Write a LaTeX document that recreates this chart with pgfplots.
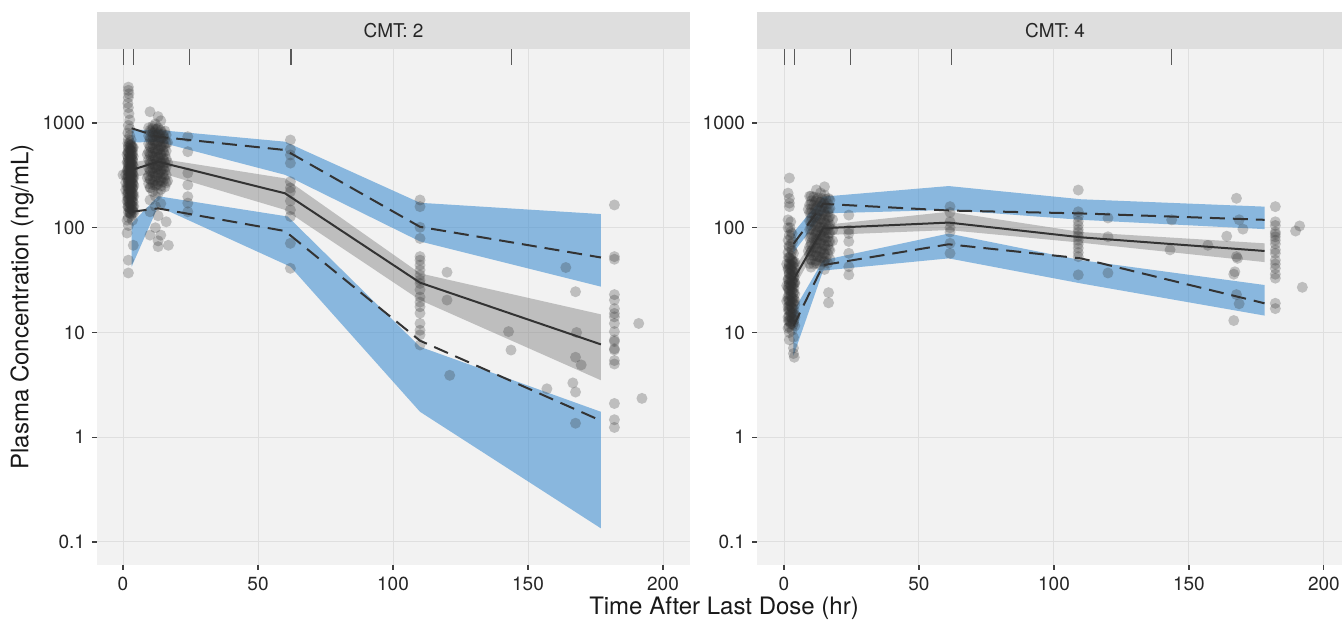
\documentclass[border=0pt]{standalone}
\usepackage{fontspec}
\setmainfont{TeX Gyre Heros}
\usepackage{pgfplots}
\pgfplotsset{compat=1.18}
\definecolor{panelbg}{HTML}{F2F2F2}
\definecolor{gridc}{HTML}{DFDFDF}
\definecolor{stripc}{HTML}{DEDEDE}
\definecolor{bandblue}{HTML}{4390D1}
\definecolor{bandgray}{HTML}{808080}
\definecolor{linec}{HTML}{333333}
\definecolor{ptc}{HTML}{333333}
\pgfplotsset{
  upband/.style={draw=none, fill=bandblue, fill opacity=0.6},
  medband/.style={draw=none, fill=bandgray, fill opacity=0.45},
  dline/.style={linec, line width=1pt, dash pattern=on 7.5pt off 4pt},
  sline/.style={linec, line width=1pt},
  rug/.style={black!65, line width=0.6pt},
}
\begin{document}
\begin{tikzpicture}
\useasboundingbox (0,0) rectangle (671pt,311pt);
% strips
\fill[stripc] (48.5pt,286.5pt) rectangle (345pt,305pt);
\node[font=\fontsize{9.5}{11}\selectfont, text=black!85] at (196.75pt,295.75pt) {CMT: 2};
\fill[stripc] (378.5pt,286.5pt) rectangle (671pt,305pt);
\node[font=\fontsize{9.5}{11}\selectfont, text=black!85] at (527.5pt,295.75pt) {CMT: 4};
% axis titles
\node[rotate=90, font=\fontsize{12}{14}\selectfont, text=black!90] at (11pt,157.5pt) {Plasma Concentration (ng/mL)};
\node[font=\fontsize{12}{14}\selectfont, text=black!90] at (362pt,7pt) {Time After Last Dose (hr)};

% ---------------- CMT 2 ----------------
\begin{axis}[ymode=log, log basis y=10,
  scale only axis, anchor=south west,
  at={(48.5pt,28.5pt)}, width=296.5pt, height=258pt,
  xmin=-9.63, xmax=210, ymin=0.0603, ymax=5085,
  axis background/.style={fill=panelbg},
  axis line style={draw=none},
  grid=major, major grid style={gridc, line width=0.5pt},
  xtick={0,50,100,150,200}, xticklabels={0,50,100,150,200},
  ytick={0.1,1,10,100,1000}, yticklabels={0.1,1,10,100,1000},
  tick align=outside, major tick length=2.5pt,
  tick style={black!75, line width=0.55pt},
  xtick pos=bottom, ytick pos=left,
  ticklabel style={font=\fontsize{9.5}{11}\selectfont, text=black!85},
  minor tick num=0]
\addplot[upband] coordinates {(3.2,860) (13,858) (60,663) (110,173) (177,135) (177,27.4) (110,74) (60,320) (13,663) (3.2,650)};
\addplot[medband] coordinates {(3.2,420) (13,460) (60,296) (110,36.7) (177,14.9) (177,3.5) (110,20.4) (60,148) (13,340) (3.2,300)};
\addplot[upband] coordinates {(3.2,110) (13,200) (61,128) (110,7.3) (177,1.75) (177,0.135) (110,1.75) (62,42.5) (13,160) (3.2,42.5)};
\addplot[dline] coordinates {(3.2,890) (13,740) (60,552) (110,102) (177,52)};
\addplot[sline] coordinates {(3.2,356) (13,427) (60,213) (110,29.9) (177,7.7)};
\addplot[dline] coordinates {(3.2,142) (13,153) (60,93) (110,8.35) (177,1.44)};
\addplot[only marks, mark=*, mark size=2.75pt, color=ptc, mark options={solid, draw opacity=0, fill=ptc, fill opacity=0.27}] coordinates {
(2,2200)(2,2050)(2.2,1900)(2,1750)(1.8,1540)(2,1400)(2.2,1230)(2.5,1070)(2,950)(2.5,880)(1.8,800)(2.5,760)(2,700)(3,690)
(2.5,650)(3,620)(2,600)(3.5,580)(2.5,560)(3,540)(2,520)(3.5,500)(2.5,490)(3,470)(2,460)(3.5,450)(2.5,435)(3,420)(2,410)(3.5,400)(2.5,390)(3,380)(2,370)(3.5,365)(2.5,355)(3,345)(2,340)(3.5,330)(2.5,320)(3,312)(2,305)(3.5,298)(2.5,290)(3,282)(2,275)(3.5,268)(2.5,260)(3,252)(2,245)(3.5,238)(2.5,230)(3,222)(2,215)(3.5,208)(2.5,200)(3,193)(2,186)(3.5,180)(2.5,172)(3,165)(2,158)(3.5,150)(2.5,145)
(1.5,500)(1.5,420)(1.5,350)(1.5,300)(1.5,250)(1.5,210)(1.5,180)(1,320)(1,270)(1,230)(4,300)(4,250)(4,200)(0,320)
(2.5,138)(3,130)(2,125)(3.5,118)(1.5,118)(2,105)(1.5,89)(3.8,68)(2,49)(2,37)(4,160)(4,140)
(1.8,640)(2.3,625)(2.8,612)(3.3,598)(3.8,585)(2.0,572)(2.6,560)(3.1,548)(3.6,536)(1.8,524)(2.3,512)(2.8,500)(3.3,490)(3.8,479)(2.0,468)(2.6,458)(3.1,448)(3.6,438)(1.8,428)(2.3,419)(2.8,410)(3.3,401)(3.8,392)(2.0,383)(2.6,375)(3.1,367)(3.6,359)(1.8,351)(2.3,343)(2.8,336)(3.3,329)(3.8,321)(2.0,314)(2.6,307)(3.1,300)(3.6,294)(1.8,287)(2.3,281)(2.8,275)(3.3,269)(3.8,263)(2.0,257)(2.6,252)(3.1,246)(3.6,241)(1.8,235)(2.3,230)(2.8,225)(3.3,220)(3.8,215)(2.0,210)(2.6,206)(3.1,201)(3.6,197)(1.8,193)(2.3,188)(2.8,184)(3.3,180)(3.8,176)(2.0,172)(2.6,168)(3.1,165)(3.6,161)(1.8,158)(2.3,154)(2.8,151)(3.3,147)(3.8,144)(2.0,141)(2.6,138)(3.1,135)
(10,1280)(13,1150)(14,1050)(12,980)(11,930)(13,900)(12,870)(10,850)(14,830)(11,800)(13,780)(12,760)(15,740)(10,720)(14,700)(11,680)(13,660)(12,640)(15,620)(10,600)(14,585)(11,570)(13,555)(12,540)(15,525)(10,510)(14,495)(11,480)(13,468)(12,455)(15,440)(10,428)(14,415)(11,402)(13,390)(12,378)(15,366)(10,355)(14,344)(11,333)(13,322)(12,312)(15,302)(10,292)(14,282)(11,272)(13,262)(12,252)(10,242)(14,232)(11,222)(13,212)(12,200)
(9.5,900)(11,884)(12.5,869)(14,854)(15.5,839)(10.2,824)(11.7,810)(13.2,796)(14.7,782)(16,768)(9.5,755)(11,742)(12.5,729)(14,716)(15.5,704)(10.2,691)(11.7,679)(13.2,667)(14.7,656)(16,644)(9.5,633)(11,622)(12.5,611)(14,601)(15.5,590)(10.2,580)(11.7,570)(13.2,560)(14.7,550)(16,541)(9.5,531)(11,522)(12.5,513)(14,504)(15.5,495)(10.2,487)(11.7,478)(13.2,470)(14.7,462)(16,454)(9.5,446)(11,438)(12.5,431)(14,423)(15.5,416)(10.2,408)(11.7,401)(13.2,394)(14.7,387)(16,381)(9.5,374)(11,368)(12.5,361)(14,355)(15.5,349)(10.2,343)(11.7,337)(13.2,331)(14.7,325)(16,319)(9.5,314)(11,308)(12.5,303)(14,298)(15.5,292)(10.2,287)(11.7,282)(13.2,277)(14.7,273)(16,268)(9.5,263)(11,258)(12.5,254)(14,250)(15.5,245)(10.2,241)
(16.5,650)(16.5,420)(16.5,280)(9,500)(9,300)
(10,184)(14,170)(12,160)(10,142)(13,130)(16,114)(12,100)(10,85)(14,85)(13,75)(16.8,68)(13,66)
(24,740)(24,532)(24,333)(24,256)(24,198)(24,172)(24,142)
(62,688)(62,560)(62,495)(62,414)(62,275)(62,240)(62,221)(62,180)(62,148)(62,128)(62,71)(62,41)
(110,184)(110,159)(110,101)(110,79)(110,53)(110,49)(110,44)(110,39.5)(110,35.4)(110,31.6)(110,29.4)(110,25.6)(110,21.8)(110,19.5)(110,17.6)(110,15.3)(110,12.2)(110,10.5)(110,9.5)(110,7.6)
(120,37.6)(120,20.4)(121,3.9)(142.8,10.2)(143.7,6.8)(157,2.9)(164,41.7)(167.6,24.5)(168,10)(167.6,5.8)(169.7,4.9)(166.6,3.3)(167.6,2.7)(167.6,1.36)
(182,165)(182,53)(182,50)(182,23)(182,20.4)(182,16.9)(182,15.2)(182,14.1)(182,12.2)(182,10.2)(182,8.5)(182,8.2)(182,7)(182,6.8)(182,5.4)(182,5)(182,2.1)(182,1.47)(182,1.24)(191,12.2)(192.2,2.35)
};
\addplot[rug] coordinates {(0.25,3595) (0.25,5085)};
\addplot[rug] coordinates {(4,3595) (4,5085)};
\addplot[rug] coordinates {(24.5,3595) (24.5,5085)};
\addplot[rug] coordinates {(62.2,3595) (62.2,5085)};
\addplot[rug] coordinates {(143.8,3595) (143.8,5085)};
\end{axis}

% ---------------- CMT 4 ----------------
\begin{axis}[ymode=log, log basis y=10,
  scale only axis, anchor=south west,
  at={(378.5pt,28.5pt)}, width=292.5pt, height=258pt,
  xmin=-10, xmax=206.7, ymin=0.0603, ymax=5085,
  axis background/.style={fill=panelbg},
  axis line style={draw=none},
  grid=major, major grid style={gridc, line width=0.5pt},
  xtick={0,50,100,150,200}, xticklabels={0,50,100,150,200},
  ytick={0.1,1,10,100,1000}, yticklabels={0.1,1,10,100,1000},
  tick align=outside, major tick length=2.5pt,
  tick style={black!75, line width=0.55pt},
  xtick pos=bottom, ytick pos=left,
  ticklabel style={font=\fontsize{9.5}{11}\selectfont, text=black!85},
  minor tick num=0]
\addplot[upband] coordinates {(3.5,90) (14.5,198) (61,250) (110,187) (178,159) (178,97) (110,119) (61,148) (14.5,137) (3.5,58)};
\addplot[medband] coordinates {(3.5,40) (14.5,106) (61,142) (110,91) (178,71) (178,47) (110,72) (61,95) (14.5,85) (3.5,26)};
\addplot[upband] coordinates {(3.5,16) (14.5,49) (61,88) (110,49) (178,28.4) (178,14.5) (110,29.4) (61,51) (14.5,39) (3.5,6)};
\addplot[dline] coordinates {(3.5,70) (14.5,169) (61,146) (110,137) (178,119)};
\addplot[sline] coordinates {(3.5,32) (14.5,99) (61,112) (110,81) (178,60)};
\addplot[dline] coordinates {(3.5,11.5) (14.5,44) (61,69.5) (110,51) (178,19)};
\addplot[only marks, mark=*, mark size=2.75pt, color=ptc, mark options={solid, draw opacity=0, fill=ptc, fill opacity=0.27}] coordinates {
(2,298)(1.5,214)(2,190)(2,172)(2,159)(1.5,119)(2.5,114)(1.5,100)(2.5,91)(2,85)(1.5,76)(2.5,70)(2,65)(3,60)(1.5,58)(2.5,54)(2,52)(3,48)(3.5,46)(2,44)(2.5,42)(1.5,40)(3,39)(2,37)(3.5,35)(2.5,34)(1.5,32)(3,31)(2,30)(3.5,29)(2.5,28)(1.5,27)(3,26)(2,25)(3.5,24)(2.5,23)(1.5,22)(3,21)(2,20)(3.5,19.5)(2.5,18.5)(1.5,17.5)(3,17)(2,16.5)(3.5,15.5)(2.5,15)(1.5,14)(3,13.5)(2,13)(3.5,12.5)(2.5,12)(1.5,11)(3,10.5)(2,10)(3.5,9)(1,20)(1,28)(1,45)(4,30)(4,20)(4,14)(2,8.5)(3.5,7.1)(3.5,6.3)(3.8,5.8)
(1.6,52)(2.2,50.7)(2.8,49.4)(3.4,48.1)(4.0,46.9)(1.9,45.7)(2.5,44.5)(3.1,43.4)(3.7,42.3)(1.6,41.2)(2.2,40.2)(2.8,39.2)(3.4,38.2)(4.0,37.2)(1.9,36.2)(2.5,35.3)(3.1,34.4)(3.7,33.5)(1.6,32.7)(2.2,31.9)(2.8,31.1)(3.4,30.3)(4.0,29.5)(1.9,28.7)(2.5,28)(3.1,27.3)(3.7,26.6)(1.6,25.9)(2.2,25.2)(2.8,24.6)(3.4,24)(4.0,23.4)(1.9,22.8)(2.5,22.2)(3.1,21.6)(3.7,21.1)(1.6,20.5)(2.2,20)(2.8,19.5)(3.4,19)(4.0,18.5)(1.9,18)(2.5,17.6)(3.1,17.1)(3.7,16.7)(1.6,16.3)(2.2,15.9)(2.8,15.5)(3.4,15.1)(4.0,14.7)(1.9,14.3)(2.5,13.9)(3.1,13.6)(3.7,13.2)(1.6,12.9)(2.2,12.6)(2.8,12.2)(3.4,11.9)(4.0,11.6)(1.9,11.3)
(2.2,100)(3,88)(2.5,80)(3.2,73)(1.8,67)(2.8,62)(3.5,57)
(15,246)(12,230)(13.5,215)(10,200)(15,205)(16.5,190)(12,185)(13.5,175)(10,168)(15,165)(12,155)(16.5,150)(13.5,145)(10,138)(15,135)(12,128)(16.5,125)(13.5,120)(10,115)(15,112)(12,108)(16.5,104)(13.5,100)(10,97)(15,94)(12,90)(16.5,88)(13.5,85)(10,82)(15,80)(12,77)(16.5,74)(13.5,72)(10,69)(15,67)(12,64)(16.5,62)(13.5,60)(10,58)(15,56)(12,54)(13.5,52)(10,50)(15,48)(12,46)(13.5,44)(10,42)(15,40)(18,120)(18,95)(18,75)(9,150)(9,60)(16.5,24)(16.5,19.2)
(9.5,200)(11,197)(12.5,193)(14,190)(15.5,187)(17,184)(10.2,181)(11.7,178)(13.2,175)(14.7,172)(16.2,169)(9.5,166)(11,164)(12.5,161)(14,158)(15.5,156)(17,153)(10.2,151)(11.7,148)(13.2,146)(14.7,143)(16.2,141)(9.5,139)(11,136)(12.5,134)(14,132)(15.5,130)(17,128)(10.2,126)(11.7,124)(13.2,122)(14.7,120)(16.2,118)(9.5,116)(11,114)(12.5,112)(14,110)(15.5,108)(17,107)(10.2,105)(11.7,103)(13.2,101)(14.7,100)(16.2,98)(9.5,96)(11,95)(12.5,93)(14,92)(15.5,90)(17,89)(10.2,87)(11.7,86)(13.2,84)(14.7,83)(16.2,81)(9.5,80)(11,79)(12.5,77)(14,76)(15.5,75)(17,74)(10.2,72)(11.7,71)(13.2,70)(14.7,69)(16.2,68)(9.5,66)(11,65)(12.5,64)(14,63)(15.5,62)(17,61)(10.2,60)(11.7,59)(13.2,58)(14.7,57)(16.2,56)(9.5,55)(11,54)(12.5,53)(14,52)(15.5,51)(17,50)(10.2,49)(11.7,48.5)(13.2,48)(14.7,47)(16.2,46)(9.5,45.5)(11,45)
(24,132)(24,95)(24,88)(24,74)(24,57)(24,42.5)(24,35.5)
(61.5,159)(61.5,140)(61.5,114)(61.5,100)(61.5,91)(61.5,71)(61.5,57)
(109,229)(109,142)(109,128)(109,115)(109,105)(109,96)(109,90)(109,83)(109,76)(109,70)(109,64)(109,58)(109,53)(109,35.5)(120,124)(120,82)(120,37)
(143.6,119)(143,61.5)(157,68)(164,83)(167.6,191)(168.6,119)(170,97)(167.6,53)(168,51)(167,38)(166.6,36)(167.6,23)(168.6,18.8)(166.6,13)
(182,159)(182,114)(182,105)(182,91)(182,87)(182,82)(182,76)(182,70)(182,61.5)(182,57)(182,49)(182,45)(182,41)(182,36)(182,33)(182,19)(182,16.9)(191,104)(189.5,93)(192,27)
};
\addplot[rug] coordinates {(0.1,3595) (0.1,5085)};
\addplot[rug] coordinates {(4,3595) (4,5085)};
\addplot[rug] coordinates {(24.5,3595) (24.5,5085)};
\addplot[rug] coordinates {(62,3595) (62,5085)};
\addplot[rug] coordinates {(143.6,3595) (143.6,5085)};
\end{axis}
\end{tikzpicture}
\end{document}
